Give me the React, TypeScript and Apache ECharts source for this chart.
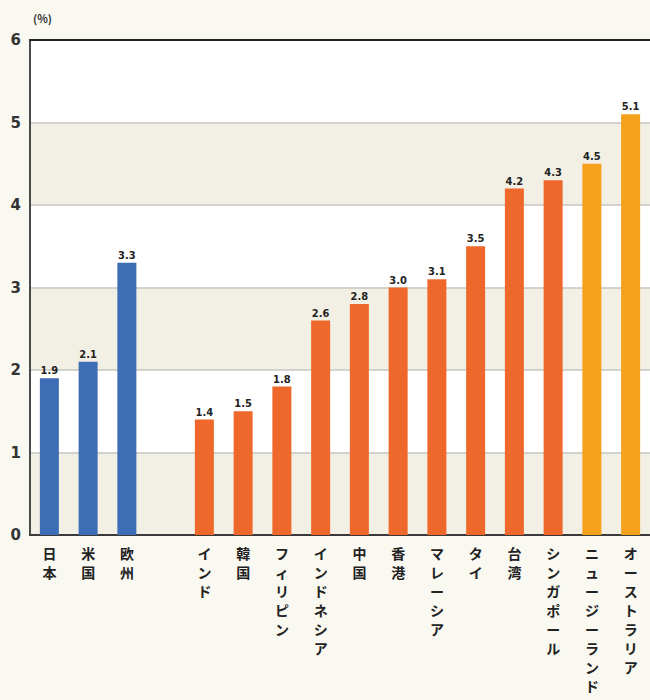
import React, { useEffect, useRef } from "react";
import * as echarts from "echarts";

const categories = ["日本", "米国", "欧州", "", "インド", "韓国", "フィリピン", "インドネシア", "中国", "香港", "マレーシア", "タイ", "台湾", "シンガポール", "ニュージーランド", "オーストラリア"];
const values: (number | null)[] = [1.9, 2.1, 3.3, null, 1.4, 1.5, 1.8, 2.6, 2.8, 3.0, 3.1, 3.5, 4.2, 4.3, 4.5, 5.1];
const groups = ["ref", "ref", "ref", "", "asia", "asia", "asia", "asia", "asia", "asia", "asia", "asia", "asia", "asia", "oceania", "oceania"];
const yTicks = [0, 1, 2, 3, 4, 5, 6];
const unitLabel = "(%)";

const groupColors: Record<string, string> = {
  ref: "#3d6db5",
  asia: "#ee682b",
  oceania: "#f5a11c",
};

export default function App() {
  const ref = useRef<HTMLDivElement>(null);
  useEffect(() => {
    document.body.style.margin = "0";
    document.body.style.background = "#f9f8f1";
    const chart = echarts.init(ref.current!, null, { renderer: "svg" });
    const font = "'Noto Sans CJK JP', 'Noto Sans', sans-serif";
    chart.setOption({
      animation: false,
      backgroundColor: "#f9f8f1",
      textStyle: { fontFamily: font },
      grid: { left: 30, top: 40, width: 624, height: 495, containLabel: false },
      xAxis: [
        {
          type: "category",
          data: categories,
          boundaryGap: true,
          axisLine: { show: true, lineStyle: { color: "#3a3a3a", width: 2 } },
          axisTick: { show: false },
          axisLabel: {
            interval: 0,
            margin: 8,
            color: "#222",
            fontSize: 14,
            fontWeight: "bold",
            lineHeight: 19,
            fontFamily: font,
            formatter: (v: string) => Array.from(v).join("\n"),
          },
        },
        {
          type: "category",
          position: "top",
          data: categories,
          axisLine: { show: true, lineStyle: { color: "#222", width: 2 } },
          axisTick: { show: false },
          axisLabel: { show: false },
        },
      ],
      yAxis: {
        type: "value",
        min: yTicks[0],
        max: yTicks[yTicks.length - 1],
        interval: 1,
        axisLine: { show: true, lineStyle: { color: "#4a4a4a", width: 2 } },
        axisTick: { show: false },
        axisLabel: { color: "#333", fontSize: 15, fontWeight: "bold", margin: 9, fontFamily: "'DejaVu Sans', sans-serif" },
        splitLine: { show: true, lineStyle: { color: "#c8c6c0", width: 1.5 } },
        splitArea: { show: true, areaStyle: { color: ["#f2efe4", "#ffffff"] } },
      },
      series: [
        {
          type: "bar",
          barWidth: 19,
          data: values.map((v, i) => ({
            value: v,
            itemStyle: { color: groupColors[groups[i]] || "#999" },
          })),
          label: {
            show: true,
            position: "top",
            distance: 2,
            color: "#222",
            fontSize: 11,
            fontWeight: "bold",
            fontFamily: "'DejaVu Sans Condensed', 'DejaVu Sans', sans-serif",
            formatter: (p: any) => (p.value == null ? "" : Number(p.value).toFixed(1)),
          },
        },
      ],
      graphic: [
        {
          type: "text",
          left: 33,
          top: 12,
          style: { text: unitLabel, fill: "#333", fontSize: 11, fontWeight: "bold", fontFamily: font },
        },
      ],
    });
    return () => chart.dispose();
  }, []);
  return <div ref={ref} style={{ width: 650, height: 700 }} />;
}
